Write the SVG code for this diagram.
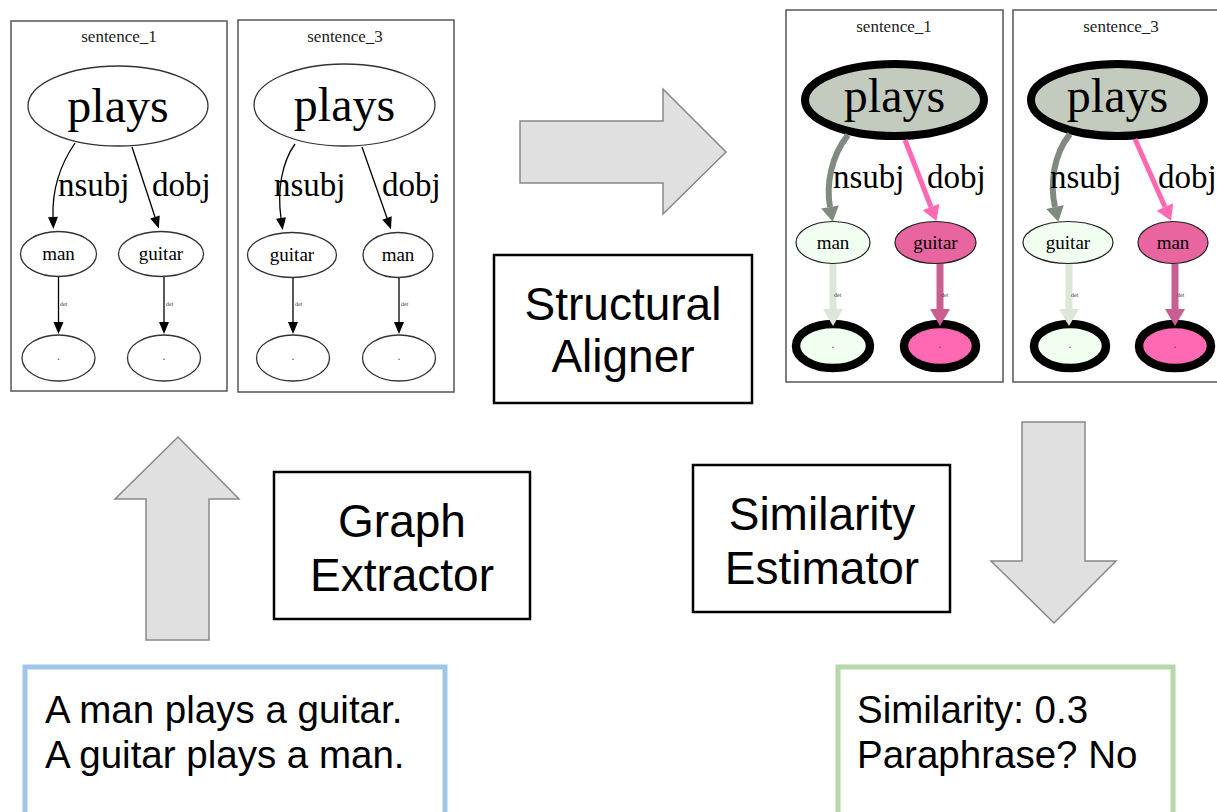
<svg xmlns="http://www.w3.org/2000/svg" width="1217" height="812" viewBox="0 0 1217 812">
<style>
.frame{fill:#fff;stroke:#555;stroke-width:1.5}
.ttl{font-family:"Liberation Serif",serif;font-size:17px;text-anchor:middle;fill:#222}
.big{font-family:"Liberation Serif",serif;font-size:48px;text-anchor:middle;fill:#000}
.lbl{font-family:"Liberation Serif",serif;font-size:33px;fill:#000}
.mid{font-family:"Liberation Serif",serif;font-size:19px;text-anchor:middle;fill:#000}
.det{font-family:"Liberation Serif",serif;font-size:6px;fill:#444}
.dot{font-family:"Liberation Serif",serif;font-size:12px;text-anchor:middle;fill:#555}
.wn{fill:#fff;stroke:#333;stroke-width:1.3}
.e{fill:none;stroke:#000;stroke-width:1.3}
.fat{fill:#e0e0e0;stroke:#888;stroke-width:1.5;stroke-linejoin:miter}
.box{fill:#fff;stroke:#000;stroke-width:2.5}
.sans{font-family:"Liberation Sans",Arial,sans-serif;fill:#000}
.bl{font-size:46px;text-anchor:middle}
.io{font-size:38.5px}
</style>
<defs>
<marker id="ak" markerUnits="userSpaceOnUse" markerWidth="20" markerHeight="20" orient="auto" refX="0" refY="0" overflow="visible"><path d="M0,-5 L12,0 L0,5 z" fill="#000"/></marker>
<marker id="ag" markerUnits="userSpaceOnUse" markerWidth="30" markerHeight="30" orient="auto" refX="0" refY="0" overflow="visible"><path d="M0,-9 L15,0 L0,9 z" fill="#808a80"/></marker>
<marker id="ap" markerUnits="userSpaceOnUse" markerWidth="30" markerHeight="30" orient="auto" refX="0" refY="0" overflow="visible"><path d="M0,-9 L15,0 L0,9 z" fill="#ff69b4"/></marker>
<marker id="al" markerUnits="userSpaceOnUse" markerWidth="30" markerHeight="30" orient="auto" refX="0" refY="0" overflow="visible"><path d="M0,-10 L17,0 L0,10 z" fill="#dce6d9"/></marker>
<marker id="ad" markerUnits="userSpaceOnUse" markerWidth="30" markerHeight="30" orient="auto" refX="0" refY="0" overflow="visible"><path d="M0,-10 L17,0 L0,10 z" fill="#c85f90"/></marker>
</defs>
<rect width="1217" height="812" fill="#fff"/>

<!-- Graph 1 -->
<g id="graph1">
<rect class="frame" x="11" y="21" width="216" height="370"/>
<text class="ttl" x="119" y="42">sentence_1</text>
<g id="g1-plays"><ellipse class="wn" cx="118" cy="106" rx="90" ry="40"/><text class="big" x="118" y="122">plays</text></g>
<g id="g1-man"><ellipse class="wn" cx="58.5" cy="254" rx="38" ry="22.5"/><text class="mid" x="58.5" y="260">man</text></g>
<g id="g1-guitar"><ellipse class="wn" cx="161" cy="254" rx="42.5" ry="22.5"/><text class="mid" x="161" y="260">guitar</text></g>
<g id="g1-det1"><ellipse class="wn" cx="58.5" cy="358" rx="36.5" ry="23"/><text class="dot" x="58.5" y="360">.</text></g>
<g id="g1-det2"><ellipse class="wn" cx="164" cy="358" rx="36.5" ry="23"/><text class="dot" x="164" y="360">.</text></g>
</g>

<!-- Graph 2 -->
<g id="graph2">
<rect class="frame" x="238" y="20" width="216" height="372"/>
<text class="ttl" x="345" y="42">sentence_3</text>
<g id="g2-plays"><ellipse class="wn" cx="344.5" cy="105" rx="90.5" ry="41"/><text class="big" x="344.5" y="121">plays</text></g>
<g id="g2-guitar"><ellipse class="wn" cx="292" cy="255" rx="44.5" ry="22.5"/><text class="mid" x="292" y="261">guitar</text></g>
<g id="g2-man"><ellipse class="wn" cx="398" cy="255" rx="35" ry="22.5"/><text class="mid" x="398" y="261">man</text></g>
<g id="g2-det1"><ellipse class="wn" cx="293" cy="358" rx="36.5" ry="23"/><text class="dot" x="293" y="360">.</text></g>
<g id="g2-det2"><ellipse class="wn" cx="399" cy="358" rx="36.5" ry="23"/><text class="dot" x="399" y="360">.</text></g>
</g>

<!-- Graph 3 (aligned) -->
<g id="graph3">
<rect class="frame" x="786" y="10" width="217" height="372"/>
<text class="ttl" x="894" y="32">sentence_1</text>
<g id="g3-plays"><ellipse cx="894.5" cy="100" rx="89.5" ry="36" fill="#c3cbbf" stroke="#000" stroke-width="8"/><text class="big" x="894.5" y="112">plays</text></g>
<g id="g3-man"><ellipse cx="833" cy="242.5" rx="37" ry="21" fill="#f0fff0" stroke="#222" stroke-width="1.2"/><text class="mid" x="833" y="249">man</text></g>
<g id="g3-guitar"><ellipse cx="935.5" cy="242.5" rx="40.5" ry="21" fill="#e8659f" stroke="#222" stroke-width="1.2"/><text class="mid" x="935.5" y="249">guitar</text></g>
<g id="g3-det1"><ellipse cx="833" cy="346" rx="37" ry="22" fill="#f0fff0" stroke="#000" stroke-width="8.5"/><text class="dot" x="833" y="348">.</text></g>
<g id="g3-det2"><ellipse cx="940" cy="346" rx="36" ry="22" fill="#ff69b4" stroke="#000" stroke-width="8.5"/><text class="dot" x="940" y="348">.</text></g>
</g>

<!-- Graph 4 (aligned) -->
<g id="graph4">
<rect class="frame" x="1013" y="10" width="220" height="372"/>
<text class="ttl" x="1121" y="32">sentence_3</text>
<g id="g4-plays"><ellipse cx="1117.5" cy="100" rx="86.5" ry="36" fill="#c3cbbf" stroke="#000" stroke-width="8"/><text class="big" x="1117.5" y="112">plays</text></g>
<g id="g4-guitar"><ellipse cx="1068" cy="242.5" rx="45" ry="21" fill="#f0fff0" stroke="#222" stroke-width="1.2"/><text class="mid" x="1068" y="249">guitar</text></g>
<g id="g4-man"><ellipse cx="1173" cy="242.5" rx="35" ry="21" fill="#e8659f" stroke="#222" stroke-width="1.2"/><text class="mid" x="1173" y="249">man</text></g>
<g id="g4-det1"><ellipse cx="1070" cy="346" rx="36" ry="22" fill="#f0fff0" stroke="#000" stroke-width="8.5"/><text class="dot" x="1070" y="348">.</text></g>
<g id="g4-det2"><ellipse cx="1175" cy="346" rx="36" ry="22" fill="#ff69b4" stroke="#000" stroke-width="8.5"/><text class="dot" x="1175" y="348">.</text></g>
</g>

<!-- Connectors -->
<g id="connectors">
<path class="e" d="M75,143 C60,165 52,188 53,217" marker-end="url(#ak)"/>
<path class="e" d="M132,147 L155,217" marker-end="url(#ak)"/>
<path class="e" d="M58.5,277 L58.5,322" marker-end="url(#ak)"/>
<path class="e" d="M164,277 L164,322" marker-end="url(#ak)"/>
<path class="e" d="M295,144 C282,162 277,190 281,218" marker-end="url(#ak)"/>
<path class="e" d="M362,147 L387,218" marker-end="url(#ak)"/>
<path class="e" d="M293,278 L293,322" marker-end="url(#ak)"/>
<path class="e" d="M399,278 L399,322" marker-end="url(#ak)"/>

<path d="M848,135 C831,156 826,185 830,207" fill="none" stroke="#808a80" stroke-width="6" marker-end="url(#ag)"/>
<path d="M905,140 L931,207" fill="none" stroke="#ff69b4" stroke-width="5" marker-end="url(#ap)"/>
<path d="M833,264 L833,309" fill="none" stroke="#dce6d9" stroke-width="7" marker-end="url(#al)"/>
<path d="M940,264 L940,309" fill="none" stroke="#c85f90" stroke-width="7" marker-end="url(#ad)"/>

<path d="M1070,134 C1053,155 1050,185 1055,207" fill="none" stroke="#808a80" stroke-width="6" marker-end="url(#ag)"/>
<path d="M1135,139 L1165,207" fill="none" stroke="#ff69b4" stroke-width="5" marker-end="url(#ap)"/>
<path d="M1069,264 L1069,309" fill="none" stroke="#dce6d9" stroke-width="7" marker-end="url(#al)"/>
<path d="M1175,264 L1175,309" fill="none" stroke="#c85f90" stroke-width="7" marker-end="url(#ad)"/>

<text class="lbl" x="58" y="196">nsubj</text>
<text class="lbl" x="152" y="196">dobj</text>
<text class="det" x="60" y="306">det</text>
<text class="det" x="166" y="306">det</text>
<text class="lbl" x="274" y="196">nsubj</text>
<text class="lbl" x="382" y="196">dobj</text>
<text class="det" x="295" y="306">det</text>
<text class="det" x="401" y="306">det</text>
<text class="lbl" x="833" y="188">nsubj</text>
<text class="lbl" x="927" y="188">dobj</text>
<text class="det" x="834" y="297">det</text>
<text class="det" x="941" y="297">det</text>
<text class="lbl" x="1050" y="188">nsubj</text>
<text class="lbl" x="1158" y="188">dobj</text>
<text class="det" x="1071" y="297">det</text>
<text class="det" x="1177" y="297">det</text>
</g>

<!-- Big process arrows -->
<g id="arrows">
<polygon class="fat" points="520,121 663,121 663,89 726,152 663,214 663,183 520,183"/>
<polygon class="fat" points="178,437 239,499 209,499 209,640 146,640 146,499 115,499"/>
<polygon class="fat" points="1022,422 1085,422 1085,561 1116,561 1054,623 991,561 1022,561"/>
</g>

<g id="structural-aligner">
<rect class="box" x="494" y="255" width="258" height="148"/>
<text class="sans bl" x="623" y="320">Structural</text>
<text class="sans bl" x="623" y="372">Aligner</text>
</g>
<g id="graph-extractor">
<rect class="box" x="274" y="472" width="256" height="147"/>
<text class="sans bl" x="402" y="537">Graph</text>
<text class="sans bl" x="402" y="591">Extractor</text>
</g>
<g id="similarity-estimator">
<rect class="box" x="693" y="465" width="257" height="147"/>
<text class="sans bl" x="822" y="530">Similarity</text>
<text class="sans bl" x="822" y="584">Estimator</text>
</g>

<g id="input">
<rect x="25" y="667" width="420" height="160" fill="#fff" stroke="#9fc5e8" stroke-width="5"/>
<text class="sans io" x="45" y="723">A man plays a guitar.</text>
<text class="sans io" x="45" y="768">A guitar plays a man.</text>
</g>
<g id="output">
<rect x="838" y="667" width="335" height="160" fill="#fff" stroke="#b6d7a8" stroke-width="5"/>
<text class="sans io" x="857" y="723">Similarity: 0.3</text>
<text class="sans io" x="857" y="768">Paraphrase? No</text>
</g>
</svg>
